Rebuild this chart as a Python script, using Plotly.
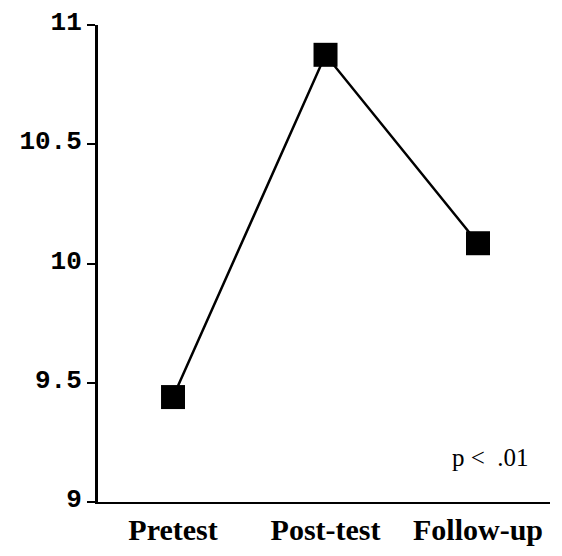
import plotly.graph_objects as go

categories = ["Pretest", "Post-test", "Follow-up"]
values = [9.44, 10.875, 10.085]
y_ticks = [9, 9.5, 10, 10.5, 11]
y_tick_labels = ["9", "9.5", "10", "10.5", "11"]
y_min, y_max = 9, 11

fig = go.Figure()
fig.add_trace(go.Scatter(
    x=list(range(len(categories))), y=values,
    mode="lines+markers",
    line=dict(color="black", width=2.5),
    marker=dict(symbol="square", size=24, color="black"),
    showlegend=False,
))

fig.add_annotation(x=2.085, y=9.185, xref="x", yref="y", text="p <  .01",
                   showarrow=False,
                   font=dict(family="Liberation Serif", size=25, color="black"))

fig.update_layout(
    width=554, height=548,
    margin=dict(l=90, r=12, t=17, b=54),
    paper_bgcolor="white", plot_bgcolor="white",
    xaxis=dict(
        range=[-0.492, 2.472],
        tickmode="array", tickvals=list(range(len(categories))), ticktext=categories,
        showline=True, linecolor="black", linewidth=2,
        ticks="", showgrid=False, zeroline=False, automargin=False,
        tickfont=dict(family="Liberation Serif", size=30, color="black"),
    ),
    yaxis=dict(
        range=[y_min, y_max],
        tickmode="array", tickvals=y_ticks, ticktext=y_tick_labels,
        showline=True, linecolor="black", linewidth=3,
        ticks="outside", ticklen=8, tickwidth=2, tickcolor="black",
        showgrid=False, zeroline=False, automargin=False,
        ticklabelshift=-4, ticklabeloverflow="allow",
        tickfont=dict(family="Liberation Mono", size=26, color="black"),
    ),
)
fig.update_xaxes(tickfont_weight="bold")
fig.update_yaxes(tickfont_weight="bold")

fig.write_html("out.html")
